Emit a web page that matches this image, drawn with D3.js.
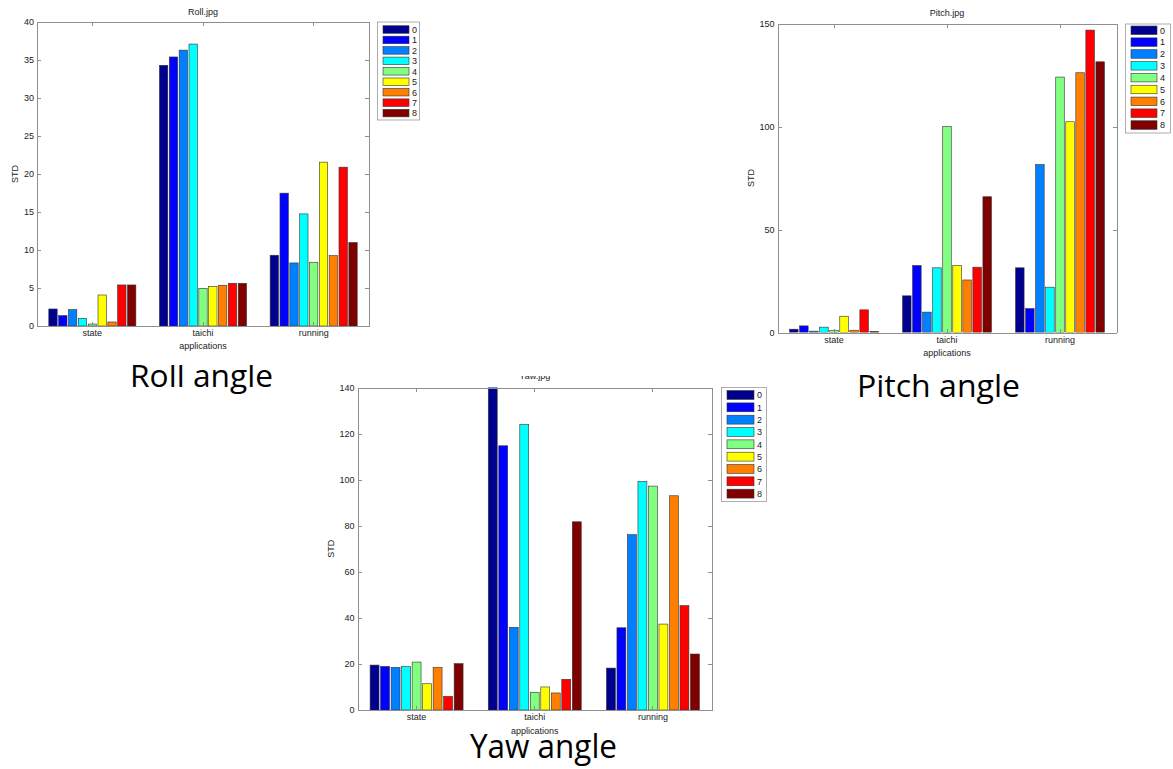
<!DOCTYPE html>
<html>
<head>
	<meta charset="utf-8">
	<title>Roll / Pitch / Yaw STD</title>
	<style>
		body { margin: 0; background: #fff; }
		svg { display: block; }
		.axis path, .axis line { stroke: #8f8f8f; shape-rendering: crispEdges; }
		.axis text { font-family: "Liberation Sans", Arial, sans-serif; font-size: 9px; fill: #222; }
		.small { font-family: "Liberation Sans", Arial, sans-serif; font-size: 9px; fill: #222; }
		.caption { font-family: "Open Sans", "Noto Sans", sans-serif; font-size: 31px; fill: #000; }
		.bar { stroke: #333; stroke-width: 0.6; }
	</style>
</head>
<body>
<svg id="page" width="1173" height="769"></svg>
<script src="https://d3js.org/d3.v7.min.js"></script>
<script>
// categories and series
var categories = ["state", "taichi", "running"];
var series = ["0", "1", "2", "3", "4", "5", "6", "7", "8"];
var colors = ["#00008f", "#0000ff", "#0080ff", "#00ffff", "#80ff80", "#ffff00", "#ff8000", "#ff0000", "#800000"];

// values per category (one entry per series)
var rollValues = [
	[2.24, 1.36, 2.15, 1.0, 0.26, 4.08, 0.53, 5.4, 5.4],
	[34.3, 35.4, 36.3, 37.1, 4.96, 5.22, 5.36, 5.62, 5.62],
	[9.31, 17.48, 8.3, 14.75, 8.39, 21.56, 9.26, 20.9, 10.98]
];
var pitchValues = [
	[1.6, 3.2, 0.65, 2.6, 1.1, 7.9, 1.1, 11.0, 0.5],
	[17.8, 32.5, 9.9, 31.4, 100.0, 32.5, 25.5, 31.7, 65.9],
	[31.4, 11.6, 81.5, 22.0, 124.0, 102.3, 126.1, 146.8, 131.4]
];
var yawValues = [
	[19.5, 18.9, 18.5, 18.8, 20.8, 11.4, 18.5, 5.9, 20.1],
	[150, 114.7, 35.9, 123.9, 7.7, 10.0, 7.4, 13.3, 81.7],
	[18.2, 35.7, 76.1, 99.2, 97.2, 37.3, 93.0, 45.3, 24.3]
];

// tick labels
var rollTicks = [0, 5, 10, 15, 20, 25, 30, 35, 40];
var pitchTicks = [0, 50, 100, 150];
var yawTicks = [0, 20, 40, 60, 80, 100, 120, 140];

var svg = d3.select("#page");
var defs = svg.append("defs");

function drawChart(opt) {
	var g = svg.append("g");
	var x = d3.scaleBand().domain(categories).range([opt.x0, opt.x1]);
	var yMax = opt.ticks[opt.ticks.length - 1];
	var y = d3.scaleLinear().domain([0, yMax]).range([opt.y1, opt.y0]);
	var inner = d3.scaleBand().domain(series)
		.range([-x.bandwidth() * 0.4, x.bandwidth() * 0.4])
		.paddingInner(0.15).paddingOuter(0.075);

	var clipId = "clip-" + opt.name;
	defs.append("clipPath").attr("id", clipId).append("rect")
		.attr("x", opt.x0).attr("y", opt.y0)
		.attr("width", opt.x1 - opt.x0).attr("height", opt.y1 - opt.y0);

	// white plot background
	g.append("rect").attr("x", opt.x0).attr("y", opt.y0)
		.attr("width", opt.x1 - opt.x0).attr("height", opt.y1 - opt.y0)
		.attr("fill", "#fff");

	var bars = g.append("g").attr("clip-path", "url(#" + clipId + ")");
	categories.forEach(function(cat, ci) {
		bars.selectAll(null)
			.data(opt.values[ci])
			.enter()
			.append("rect")
			.attr("class", "bar")
			.attr("x", function(d, i) { return x(cat) + x.bandwidth() / 2 + inner(series[i]); })
			.attr("width", inner.bandwidth())
			.attr("y", function(d) { return y(d); })
			.attr("height", function(d) { return y(0) - y(d); })
			.attr("fill", function(d, i) { return colors[i]; });
	});

	// axes on all four sides, ticks pointing in
	g.append("g").attr("class", "axis")
		.attr("transform", "translate(" + opt.x0 + ",0)")
		.call(d3.axisLeft(y).tickValues(opt.ticks).tickSizeInner(-4).tickSizeOuter(0).tickPadding(3));
	g.append("g").attr("class", "axis")
		.attr("transform", "translate(" + opt.x1 + ",0)")
		.call(d3.axisRight(y).tickValues(opt.ticks).tickSizeInner(-4).tickSizeOuter(0).tickFormat(""));
	g.append("g").attr("class", "axis")
		.attr("transform", "translate(0," + opt.y1 + ")")
		.call(d3.axisBottom(x).tickSizeInner(-4).tickSizeOuter(0).tickPadding(4));
	g.append("g").attr("class", "axis")
		.attr("transform", "translate(0," + opt.y0 + ")")
		.call(d3.axisTop(x).tickSizeInner(-4).tickSizeOuter(0).tickFormat(""));

	// labels
	var cx = (opt.x0 + opt.x1) / 2;
	var title = g.append("text").attr("class", "small")
		.attr("x", cx).attr("y", opt.titleY)
		.attr("text-anchor", "middle").text(opt.title);
	if (opt.titleClip) {
		defs.append("clipPath").attr("id", clipId + "-t").append("rect")
			.attr("x", 0).attr("y", opt.titleClip).attr("width", 1173).attr("height", 100);
		title.attr("clip-path", "url(#" + clipId + "-t)");
	}
	g.append("text").attr("class", "small")
		.attr("x", cx).attr("y", opt.y1 + opt.appDy)
		.attr("text-anchor", "middle").text("applications");
	g.append("text").attr("class", "small")
		.attr("transform", "translate(" + opt.stdX + "," + ((opt.y0 + opt.y1) / 2) + ") rotate(-90)")
		.attr("text-anchor", "middle").text("STD");

	// legend
	var lg = g.append("g");
	lg.append("rect")
		.attr("x", opt.lx).attr("y", opt.ly)
		.attr("width", opt.lw).attr("height", opt.lh)
		.attr("fill", "#fff").attr("stroke", "#999").attr("stroke-width", 0.8);
	var item = lg.selectAll(null).data(series).enter().append("g")
		.attr("transform", function(d, i) { return "translate(0," + (opt.row0 + i * opt.step) + ")"; });
	item.append("rect")
		.attr("x", opt.lx + 5.5).attr("y", -opt.step * 0.36)
		.attr("width", opt.sw).attr("height", opt.step * 0.72)
		.attr("fill", function(d, i) { return colors[i]; })
		.attr("stroke", "#333").attr("stroke-width", 0.6);
	item.append("text").attr("class", "small")
		.attr("x", opt.lx + 5.5 + opt.sw + 3).attr("y", 3.3)
		.text(function(d) { return d; });
}

drawChart({ name: "roll", values: rollValues, ticks: rollTicks, title: "Roll.jpg",
	x0: 37, x1: 369, y0: 22, y1: 326, titleY: 15, stdX: 18, appDy: 22.5,
	lx: 377.5, ly: 22, lw: 42, lh: 98, row0: 29.5, step: 10.45, sw: 26 });
drawChart({ name: "pitch", values: pitchValues, ticks: pitchTicks, title: "Pitch.jpg",
	x0: 777.5, x1: 1116.5, y0: 23.5, y1: 332.5, titleY: 16, stdX: 754, appDy: 23,
	lx: 1125.5, ly: 24, lw: 45, lh: 109, row0: 30.3, step: 11.84, sw: 26 });
drawChart({ name: "yaw", values: yawValues, ticks: yawTicks, title: "Yaw.jpg",
	x0: 357.5, x1: 712, y0: 387.5, y1: 710, titleY: 379, titleClip: 376, stdX: 334, appDy: 23.5,
	lx: 721.5, ly: 387.5, lw: 45, lh: 114, row0: 395, step: 12.33, sw: 27 });

// captions
defs.append("clipPath").attr("id", "roll-cap").append("rect")
	.attr("x", 0).attr("y", 365).attr("width", 400).attr("height", 60);
svg.append("text").attr("class", "caption")
	.attr("x", 130).attr("y", 387)
	.attr("textLength", 143).attr("lengthAdjust", "spacingAndGlyphs")
	.attr("clip-path", "url(#roll-cap)")
	.text("Roll angle");
svg.append("text").attr("class", "caption")
	.attr("x", 857).attr("y", 397)
	.attr("textLength", 163).attr("lengthAdjust", "spacingAndGlyphs")
	.text("Pitch angle");
svg.append("text").attr("class", "caption")
	.attr("x", 470).attr("y", 758)
	.attr("textLength", 147).attr("lengthAdjust", "spacingAndGlyphs")
	.style("font-size", "32px")
	.text("Yaw angle");
</script>
</body>
</html>
